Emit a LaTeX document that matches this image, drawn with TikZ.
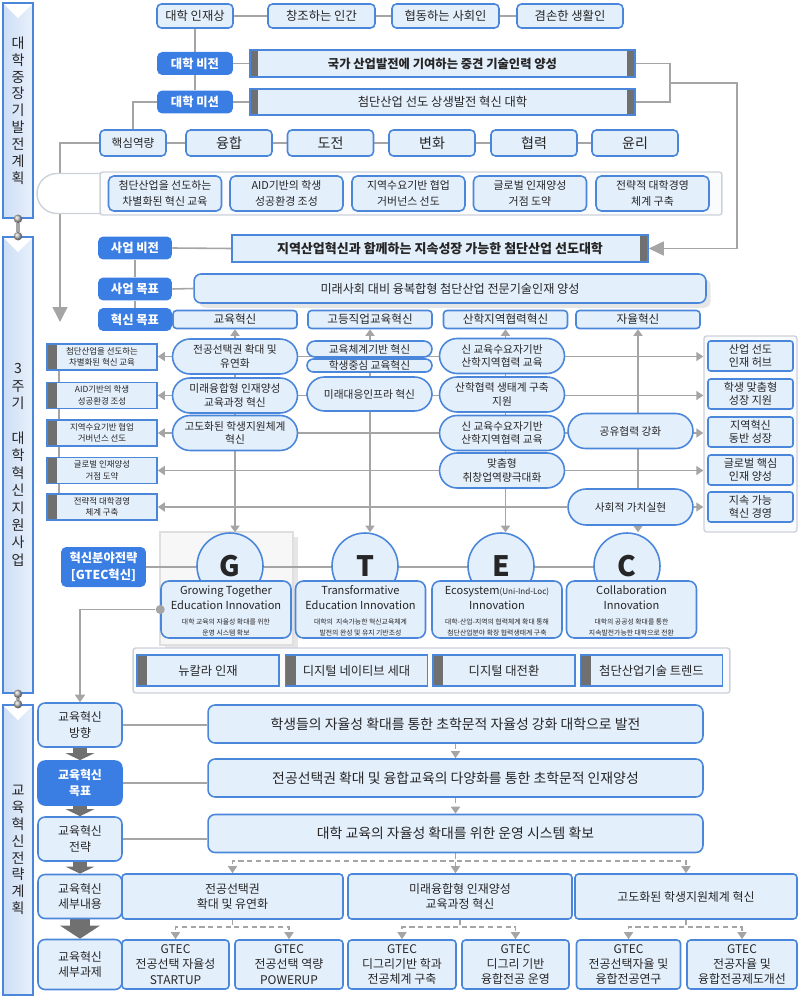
\documentclass[tikz,border=0pt]{standalone}
\usepackage{fontspec}
\setmainfont{Noto Sans CJK KR}
\usetikzlibrary{arrows.meta, positioning, shapes.geometric, shapes.misc, shadows, calc}
\definecolor{boxfill}{RGB}{228,239,252}
\definecolor{boxline}{RGB}{74,134,218}
\definecolor{headblue}{RGB}{58,126,228}
\definecolor{linegray}{RGB}{165,165,165}
\definecolor{stripgray}{RGB}{112,112,112}
\definecolor{sidefill}{RGB}{205,222,246}
\definecolor{panelline}{RGB}{205,210,218}
\definecolor{panelfill}{RGB}{250,251,253}
\definecolor{textdark}{RGB}{38,38,38}
\pgfdeclarelayer{back}
\pgfdeclarelayer{lines}
\pgfsetlayers{back,lines,main}

\begin{document}
\begin{tikzpicture}[x=0.02cm, y=-0.02cm,
    sidebar/.style={rectangle, draw=boxline, line width=1pt, left color=sidefill, right color=sidefill!45, minimum width=0.6cm, align=center, inner sep=0pt, text=textdark, font=\fontsize{8}{9.6}\selectfont,
        path picture={\fill[white] (path picture bounding box.north west) -- (path picture bounding box.north east) -- ([yshift=-0.3cm]path picture bounding box.north) -- cycle;}},
    knob/.style={circle, ball color=gray!55, minimum size=0.17cm, inner sep=0pt},
    capbox/.style={rectangle, rounded corners=2.5pt, draw=boxline, line width=0.9pt, fill=boxfill, align=center, inner sep=0pt, text=textdark, minimum height=0.48cm, font=\fontsize{7}{8.5}\selectfont},
    headbox/.style={rectangle, rounded corners=3pt, fill=headblue, align=center, inner sep=0pt, text=white, minimum width=1.52cm, minimum height=0.46cm, font=\bfseries\fontsize{7}{9.5}\selectfont},
    longbox/.style={rectangle, draw=boxline, line width=0.9pt, fill=boxfill, align=center, inner sep=0pt, text=textdark, font=\fontsize{7}{8.5}\selectfont},
    leftstrip/.style={path picture={\fill[stripgray] (path picture bounding box.south west) rectangle ([xshift=#1]path picture bounding box.north west);}},
    leftstrip/.default=0.2cm,
    rightstrip/.style={path picture={\fill[stripgray] (path picture bounding box.south east) rectangle ([xshift=-0.16cm]path picture bounding box.north east);}},
    bothstrip/.style={path picture={\fill[stripgray] (path picture bounding box.south west) rectangle ([xshift=0.16cm]path picture bounding box.north west);
        \fill[stripgray] (path picture bounding box.south east) rectangle ([xshift=-0.16cm]path picture bounding box.north east);}},
    compbox/.style={capbox, minimum width=1.72cm, minimum height=0.52cm, font=\fontsize{8}{9.5}\selectfont},
    panelbox/.style={rectangle, rounded corners=1.5pt, draw=panelline, line width=0.8pt, fill=panelfill},
    tagshape/.style={rounded rectangle, rounded rectangle right arc=none, draw=panelline, line width=0.8pt, fill=white, minimum width=1.26cm, minimum height=0.8cm, inner sep=0pt},
    aimbox/.style={capbox, rounded corners=3pt, minimum width=2.26cm, minimum height=0.7cm, font=\fontsize{6.2}{9}\selectfont},
    innobox/.style={capbox, rounded corners=2pt, minimum width=2.48cm, minimum height=0.36cm, font=\fontsize{6.6}{8}\selectfont},
    pill/.style={rectangle, rounded corners=0.35cm, draw=boxline, line width=0.9pt, fill=boxfill, align=center, inner sep=0pt, text=textdark, minimum width=2.5cm, minimum height=0.7cm, font=\fontsize{6.1}{7.6}\selectfont},
    planbox/.style={longbox, leftstrip, minimum width=2.2cm, minimum height=0.52cm, font=\fontsize{4.8}{6.6}\selectfont},
    outbox/.style={capbox, rounded corners=1.5pt, minimum width=1.7cm, minimum height=0.6cm, font=\fontsize{6.3}{7.6}\selectfont},
    gteccirc/.style={circle, draw=boxline, line width=0.9pt, fill=boxfill, minimum size=1.32cm, inner sep=0pt, text=textdark, font=\bfseries\fontsize{16}{16}\selectfont},
    gtecbox/.style={capbox, rounded corners=4.5pt, minimum width=2.6cm, minimum height=1.14cm},
    gtecname/.style={align=center, inner sep=0pt, text=textdark, font=\fontsize{6.3}{8.6}\selectfont},
    gtecdesc/.style={align=center, inner sep=0pt, text=textdark, font=\fontsize{3.9}{6.2}\selectfont},
    trendbox/.style={longbox, leftstrip, minimum width=2.84cm, minimum height=0.62cm, font=\fontsize{7}{8.5}\selectfont},
    stepbox/.style={capbox, rounded corners=4pt, minimum width=1.68cm, minimum height=0.88cm, font=\fontsize{6.8}{8.6}\selectfont},
    widebox/.style={capbox, rounded corners=4pt, minimum width=9.9cm, minimum height=0.76cm, font=\fontsize{7.9}{9.5}\selectfont},
    detailbox/.style={capbox, rounded corners=2pt, minimum height=0.9cm, font=\fontsize{6.8}{9}\selectfont},
    gtectask/.style={capbox, rounded corners=2pt, minimum height=0.98cm, font=\fontsize{6.8}{8.6}\selectfont},
    dot/.style={circle, fill=linegray, minimum size=0.18cm, inner sep=0pt},
    conn/.style={draw=linegray, line width=0.9pt},
    flow/.style={conn, -{Triangle[width=0.18cm,length=0.14cm]}},
    flowboth/.style={conn, {Triangle[width=0.18cm,length=0.13cm]}-{Triangle[width=0.18cm,length=0.13cm]}},
    dashflow/.style={conn, dash pattern=on 3pt off 2pt, -{Triangle[width=0.18cm,length=0.14cm]}},
    blockarrow/.style={draw=stripgray, line width=0.3cm, -{Triangle[width=0.56cm,length=0.14cm]}}
]
\useasboundingbox (0,0) rectangle (800,1000);

% side bars
\node[sidebar, minimum height=4.3cm] (bar1) at (18,110.5) {대\\학\\중\\장\\기\\발\\전\\계\\획};
\node[sidebar, minimum height=9.12cm, font=\fontsize{8}{9.9}\selectfont] (bar2) at (18,465) {3\\주\\기\\~\\대\\학\\혁\\신\\지\\원\\사\\업};
\node[sidebar, minimum height=5.8cm] (bar3) at (18,850) {교\\육\\혁\\신\\전\\략\\계\\획};
\node[knob] (knob1) at (bar1.south) {};
\node[knob] (knob2) at (bar2.north) {};
\node[knob] (knob3) at (bar2.south) {};
\node[knob] (knob4) at (bar3.north) {};

% university plan
\node[capbox, minimum width=1.52cm] (talent) at (195,16) {대학 인재상};
\node[capbox, minimum width=2.14cm] (creative) at (321.5,16) {창조하는 인간};
\node[capbox, minimum width=2.14cm] (cooperative) at (445.5,16) {협동하는 사회인};
\node[capbox, minimum width=2.12cm] (humble) at (570,16) {겸손한 생활인};

\node[headbox] (univision) at (195,63.5) {대학 비전};
\node[longbox, bothstrip, minimum width=7.7cm, minimum height=0.54cm, font=\bfseries\fontsize{7}{8.5}\selectfont] (visiontext) at (442.5,63.5) {국가 산업발전에 기여하는 중견 기술인력 양성};
\node[headbox] (unimission) at (195,102) {대학 미션};
\node[longbox, bothstrip, minimum width=7.7cm, minimum height=0.52cm] (missiontext) at (442.5,102) {첨단산업 선도 상생발전 혁신 대학};
\coordinate (bracket) at (670,83);
\coordinate (bendright) at (737,83);

\node[capbox, minimum width=1.32cm, minimum height=0.52cm, font=\fontsize{6.6}{8}\selectfont] (corecap) at (133,143) {핵심역량};
\node[compbox] (fusion) at (229,143) {융합};
\node[compbox] (challenge) at (330.5,143) {도전};
\node[compbox] (change) at (432,143) {변화};
\node[compbox] (collab) at (534,143) {협력};
\node[compbox] (ethics) at (635,143) {윤리};
\coordinate (spinetop) at (60,322);

\node[panelbox, minimum width=12.44cm, minimum height=0.86cm] (stratpanel) at (411,193.5) {};
\node[tagshape] (strattag) at (68.5,193.5) {};
\node[aimbox] (aim1) at (165,193.5) {첨단산업을 선도하는\\차별화된 혁신 교육};
\node[aimbox] (aim2) at (286.5,193.5) {AID기반의 학생\\성공환경 조성};
\node[aimbox] (aim3) at (408.5,193.5) {지역수요기반 협업\\거버넌스 선도};
\node[aimbox] (aim4) at (530,193.5) {글로벌 인재양성\\거점 도약};
\node[aimbox] (aim5) at (652.5,193.5) {전략적 대학경영\\체계 구축};

% support project
\node[headbox, minimum width=1.48cm] (bizvision) at (135,248) {사업 비전};
\node[longbox, rightstrip, minimum width=8.32cm, minimum height=0.54cm, font=\bfseries\fontsize{7.4}{9}\selectfont] (bizvisiontext) at (440,248.5) {지역산업혁신과 함께하는 지속성장 가능한 첨단산업 선도대학};
\node[headbox, minimum width=1.48cm] (bizgoal) at (135,289) {사업 목표};
\node[capbox, rounded corners=4pt, minimum width=10.24cm, minimum height=0.58cm, drop shadow={opacity=0.2}, font=\fontsize{6.9}{8.5}\selectfont] (bizgoaltext) at (450,288.5) {미래사회 대비 융복합형 첨단산업 전문기술인재 양성};
\node[headbox, minimum width=1.48cm] (innogoal) at (135,319.5) {혁신 목표};
\node[innobox] (eduinno) at (235,319.5) {교육혁신};
\node[innobox] (vocinno) at (370,319.5) {고등직업교육혁신};
\node[innobox] (regioninno) at (505.5,319.5) {산학지역협력혁신};
\node[innobox] (autoinno) at (638,319.5) {자율혁신};

\node[planbox] (plan1) at (102,357) {첨단산업을 선도하는\\차별화된 혁신 교육};
\node[planbox] (plan2) at (102,395.5) {AID기반의 학생\\성공환경 조성};
\node[planbox] (plan3) at (102,433) {지역수요기반 협업\\거버넌스 선도};
\node[planbox] (plan4) at (102,470.5) {글로벌 인재양성\\거점 도약};
\node[planbox] (plan5) at (102,507) {전략적 대학경영\\체계 구축};

\node[pill] (edupill1) at (235,356.5) {전공선택권 확대 및\\유연화};
\node[pill] (edupill2) at (235,395.5) {미래융합형 인재양성\\교육과정 혁신};
\node[pill] (edupill3) at (235,433) {고도화된 학생지원체계\\혁신};
\node[pill, minimum height=0.32cm, rounded corners=0.16cm] (vocpill1) at (369.5,349) {교육체계기반 혁신};
\node[pill, minimum height=0.26cm, rounded corners=0.13cm] (vocpill2) at (369.5,365.5) {학생중심 교육혁신};
\node[pill, minimum height=0.68cm] (vocpill3) at (369.5,394) {미래대응인프라 혁신};
\node[pill] (regpill1) at (502,356) {신 교육수요자기반\\산학지역협력 교육};
\node[pill] (regpill2) at (502,394.5) {산학협력 생태계 구축\\지원};
\node[pill] (regpill3) at (502,433) {신 교육수요자기반\\산학지역협력 교육};
\node[pill] (regpill4) at (502,470.5) {맞춤형\\취창업역량극대화};
\node[pill] (autopill1) at (630.5,431) {공유협력 강화};
\node[pill, minimum height=0.72cm, rounded corners=0.36cm] (autopill2) at (630.5,507) {사회적 가치실현};

\node[panelbox, minimum width=1.86cm, minimum height=3.92cm] (goalpanel) at (750.5,434) {};
\node[outbox] (out1) at (750.5,356) {산업 선도\\인재 허브};
\node[outbox] (out2) at (750.5,394) {학생 맞춤형\\성장 지원};
\node[outbox] (out3) at (750.5,432) {지역혁신\\동반 성장};
\node[outbox] (out4) at (750.5,470) {글로벌 핵심\\인재 양성};
\node[outbox] (out5) at (750.5,507) {지속 가능\\혁신 경영};

% GTEC
\node[headbox, minimum width=1.7cm, minimum height=0.8cm] (gtechead) at (103.5,567) {혁신분야전략\\{[GTEC혁신]}};
\begin{pgfonlayer}{back}
\node[rectangle, fill=gray!6, draw=gray!25, line width=0.6pt, drop shadow={opacity=0.2}, minimum width=2.66cm, minimum height=2.26cm] (gshade) at (226.5,588.5) {};
\end{pgfonlayer}
\node[gteccirc] (gcirc) at (230,566) {G};
\node[gteccirc] (tcirc) at (365,566) {T};
\node[gteccirc] (ecirc) at (501,566) {E};
\node[gteccirc] (ccirc) at (627,566) {C};
\node[gtecbox] (gbox) at (226,609.5) {};
\node[gtecbox] (tbox) at (360.5,609.5) {};
\node[gtecbox] (ebox) at (497,609.5) {};
\node[gtecbox] (cbox) at (631.5,609.5) {};
\node[gtecname] (gname) at (226,598) {Growing Together\\Education Innovation};
\node[gtecdesc] (gdesc) at (226,627) {대학 교육의 자율성 확대를 위한\\운영 시스템 확보};
\node[gtecname] (tname) at (360.5,598) {Transformative\\Education Innovation};
\node[gtecdesc] (tdesc) at (360.5,627) {대학의 \ 지속가능한 혁신교육체계\\발전의 완성 및 유지 기반조성};
\node[gtecname] (ename) at (497,598) {Ecosystem{\fontsize{4.6}{5}\selectfont(Uni-Ind-Loc)}\\Innovation};
\node[gtecdesc] (edesc) at (497,627) {대학-산업-지역의 협력체계 확대 통해\\첨단산업분야 확장 협력생태계 구축};
\node[gtecname] (cname) at (631.5,598) {Collaboration\\Innovation};
\node[gtecdesc] (cdesc) at (631.5,627) {대학의 공공성 확대를 통한\\지속발전가능한 대학으로 전환};
\node[dot] (gdot) at (gbox.west) {};

\node[panelbox, minimum width=11.94cm, minimum height=0.9cm] (trendpanel) at (431.5,670.5) {};
\node[trendbox] (trend1) at (208,670.5) {뉴칼라 인재};
\node[trendbox] (trend2) at (356.5,670.5) {디지털 네이티브 세대};
\node[trendbox] (trend3) at (504,670.5) {디지털 대전환};
\node[trendbox] (trend4) at (651.5,670.5) {첨단산업기술 트렌드};

% education innovation plan
\node[stepbox] (dirstep) at (80,725) {교육혁신\\방향};
\node[stepbox, fill=headblue, draw=headblue, text=white, font=\bfseries\fontsize{6.8}{8.6}\selectfont] (goalstep) at (80,783) {교육혁신\\목표};
\node[stepbox] (stratstep) at (80,839) {교육혁신\\전략};
\node[stepbox] (detailstep) at (80,896.5) {교육혁신\\세부내용};
\node[stepbox, minimum height=1.0cm] (taskstep) at (80,964.5) {교육혁신\\세부과제};

\node[widebox] (dirtext) at (455.5,724) {학생들의 자율성 확대를 통한 초학문적 자율성 강화 대학으로 발전};
\node[widebox] (goaltext) at (455.5,778) {전공선택권 확대 및 융합교육의 다양화를 통한 초학문적 인재양성};
\node[widebox] (strattext) at (455.5,833.5) {대학 교육의 자율성 확대를 위한 운영 시스템 확보};
\coordinate (splitmid) at (457,861);

\node[detailbox, minimum width=4.42cm] (detailA) at (232.5,896.5) {전공선택권\\확대 및 유연화};
\node[detailbox, minimum width=4.48cm] (detailB) at (460,896.5) {미래융합형 인재양성\\교육과정 혁신};
\node[detailbox, minimum width=4.44cm] (detailC) at (686,896.5) {고도화된 학생지원체계 혁신};
\coordinate (splitA) at (232,927);
\coordinate (splitB) at (460,927);
\coordinate (splitC) at (686,927);

\node[gtectask, minimum width=2.14cm] (task1) at (175.5,964.5) {GTEC\\전공선택 자율성\\STARTUP};
\node[gtectask, minimum width=2.16cm] (task2) at (289,964.5) {GTEC\\전공선택 역량\\POWERUP};
\node[gtectask, minimum width=2.16cm] (task3) at (402,964.5) {GTEC\\디그리기반 학과\\전공체계 구축};
\node[gtectask, minimum width=2.14cm] (task4) at (515.5,964.5) {GTEC\\디그리 기반\\융합전공 운영};
\node[gtectask, minimum width=2.08cm] (task5) at (628.5,964.5) {GTEC\\전공선택자율 및\\융합전공연구};
\node[gtectask, minimum width=2.2cm] (task6) at (742,964.5) {GTEC\\전공자율 및\\융합전공제도개선};

% connectors
\begin{pgfonlayer}{lines}
\draw[linegray, line width=2pt] (knob1) -- (knob2);
\draw[linegray, line width=2pt] (knob3) -- (knob4);

\draw[conn] (talent.east) -- (creative.west);
\draw[conn] (creative.east) -- (cooperative.west);
\draw[conn] (cooperative.east) -- (humble.west);
\draw[conn] (talent.south) -- (univision.north);
\draw[conn] (univision.south) -- (unimission.north);
\draw[conn] (univision.east) -- (visiontext.west);
\draw[conn] (unimission.east) -- (missiontext.west);
\draw[conn] (visiontext.east) -| (bracket) |- (missiontext.east);
\draw[conn, -{Triangle[width=0.28cm,length=0.3cm]}] (bracket) -- (bendright) |- (bizvisiontext.east);
\draw[conn] (unimission.west) -| (corecap.north);
\draw[conn] (corecap.east) -- (fusion.west);
\draw[conn] (fusion.east) -- (challenge.west);
\draw[conn] (challenge.east) -- (change.west);
\draw[conn] (change.east) -- (collab.west);
\draw[conn] (collab.east) -- (ethics.west);
\draw[conn, -{Triangle[width=0.3cm,length=0.3cm]}] (corecap.west) -| (spinetop);

\draw[conn] (bizvision.east) -- (bizvisiontext.west);
\draw[conn] (bizgoal.east) -- (bizgoaltext.west);
\draw[conn] (bizvision.south) -- (bizgoal.north);
\draw[conn] (bizgoal.south) -- (innogoal.north);
\draw[conn] ([xshift=0.26cm]plan1.west) -- ([xshift=0.26cm]plan5.west);

\draw[flow] (edupill1.west) -- (edupill1.west -| plan1.east);
\draw[flow] (edupill1.east) -- (edupill1.east -| goalpanel.west);
\draw[flow] (edupill2.west) -- (edupill2.west -| plan2.east);
\draw[flow] (edupill2.east) -- (edupill2.east -| goalpanel.west);
\draw[flow] (edupill3.west) -- (edupill3.west -| plan3.east);
\draw[flow] (edupill3.east) -- (edupill3.east -| goalpanel.west);
\draw[flow] (regpill4.west) -- (regpill4.west -| plan4.east);
\draw[flow] (regpill4.east) -- (regpill4.east -| goalpanel.west);
\draw[flow] (autopill2.west) -- (autopill2.west -| plan5.east);
\draw[flow] (autopill2.east) -- (autopill2.east -| goalpanel.west);

\draw[flowboth] (eduinno.south) -- (eduinno.south |- gcirc.north);
\draw[flowboth] (vocinno.south) -- (vocinno.south |- tcirc.north);
\draw[flowboth] (regioninno.south) -- (regioninno.south |- ecirc.north);
\draw[flowboth] (autoinno.south) -- (autoinno.south |- ccirc.north);

\draw[conn] (gtechead.east) -- (gtechead.east -| ccirc.center);
\draw[conn, -{Triangle[width=0.2cm,length=0.15cm]}] (gdot) -| (dirstep.north);

\draw[conn] (dirstep.east) -- (dirstep.east -| dirtext.west);
\draw[conn] (goalstep.east) -- (goalstep.east -| goaltext.west);
\draw[conn] (stratstep.east) -- (stratstep.east -| strattext.west);
\draw[blockarrow] (dirstep.south) -- (goalstep.north);
\draw[blockarrow] (goalstep.south) -- (stratstep.north);
\draw[blockarrow] (stratstep.south) -- (detailstep.north);
\draw[blockarrow, line width=0.42cm, -{Triangle[width=0.78cm,length=0.26cm]}] (detailstep.south) -- (taskstep.north);

\draw[dashflow] (dirtext.south) -- (goaltext.north);
\draw[dashflow] (goaltext.south) -- (strattext.north);
\draw[dashflow] (strattext.south) |- (detailA.north |- splitmid) -- (detailA.north);
\draw[dashflow] (strattext.south) -- (strattext.south |- detailB.north);
\draw[dashflow] (strattext.south) |- (detailC.north |- splitmid) -- (detailC.north);

\draw[dashflow] (detailA.south) |- (task1.north |- splitA) -- (task1.north);
\draw[dashflow] (detailA.south) |- (task2.north |- splitA) -- (task2.north);
\draw[dashflow] (detailB.south) |- (task3.north |- splitB) -- (task3.north);
\draw[dashflow] (detailB.south) |- (task4.north |- splitB) -- (task4.north);
\draw[dashflow] (detailC.south) |- (task5.north |- splitC) -- (task5.north);
\draw[dashflow] (detailC.south) |- (task6.north |- splitC) -- (task6.north);
\end{pgfonlayer}
\end{tikzpicture}
\end{document}
